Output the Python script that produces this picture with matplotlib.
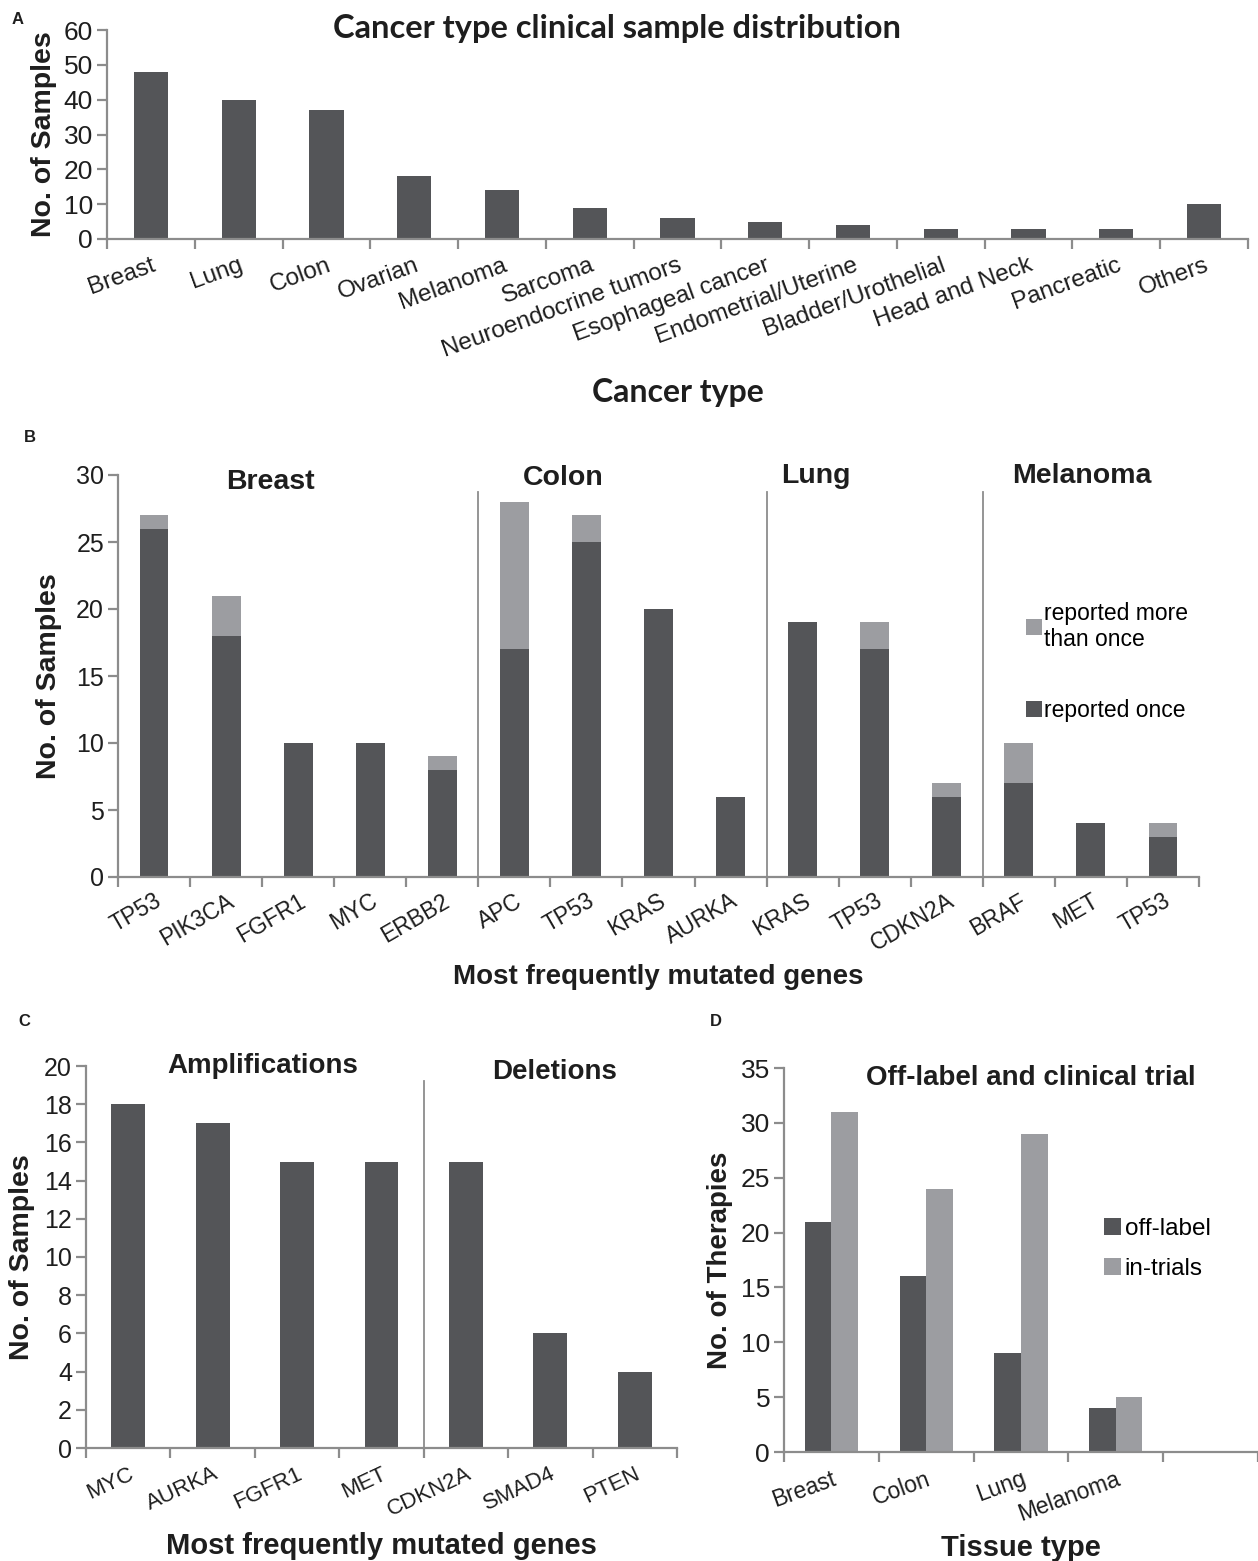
import matplotlib
matplotlib.use('Agg')
import matplotlib.pyplot as plt
import numpy as np

# ---- panel A data
cancer_types = ['Breast', 'Lung', 'Colon', 'Ovarian', 'Melanoma', 'Sarcoma',
                'Neuroendocrine tumors', 'Esophageal cancer', 'Endometrial/Uterine',
                'Bladder/Urothelial', 'Head and Neck', 'Pancreatic', 'Others']
cancer_counts = [48, 40, 37, 18, 14, 9, 6, 5, 4, 3, 3, 3, 10]

# ---- panel B data
b_groups = ['Breast', 'Colon', 'Lung', 'Melanoma']
b_group_sizes = [5, 4, 3, 3]
b_genes = ['TP53', 'PIK3CA', 'FGFR1', 'MYC', 'ERBB2',
           'APC', 'TP53', 'KRAS', 'AURKA',
           'KRAS', 'TP53', 'CDKN2A',
           'BRAF', 'MET', 'TP53']
b_once = [26, 18, 10, 10, 8, 17, 25, 20, 6, 19, 17, 6, 7, 4, 3]
b_more = [1, 3, 0, 0, 1, 11, 2, 0, 0, 0, 2, 1, 3, 0, 1]

# ---- panel C data
c_groups = ['Amplifications', 'Deletions']
c_group_sizes = [4, 3]
c_genes = ['MYC', 'AURKA', 'FGFR1', 'MET', 'CDKN2A', 'SMAD4', 'PTEN']
c_counts = [18, 17, 15, 15, 15, 6, 4]

# ---- panel D data
tissues = ['Breast', 'Colon', 'Lung', 'Melanoma', '']
off_label = [21, 16, 9, 4]
in_trials = [31, 24, 29, 5]

DARK = '#545558'
LIGHT = '#9c9da1'
AXIS = '#8c8c8c'
TXT = '#1e1e1e'

plt.rcParams['font.family'] = ['Liberation Sans', 'DejaVu Sans']

W, H = 1258, 1561
fig = plt.figure(figsize=(W / 100, H / 100), dpi=100)


def box(left, right, top, bottom):
    return [left / W, 1 - bottom / H, (right - left) / W, (bottom - top) / H]


def style(ax, n, ymax, ystep, labels, rot, lsize, ysize, lpad):
    for s in ['top', 'right']:
        ax.spines[s].set_visible(False)
    for s in ['left', 'bottom']:
        ax.spines[s].set_color(AXIS)
        ax.spines[s].set_linewidth(1.6)
    ax.set_xlim(-0.5, n - 0.5)
    ax.set_ylim(0, ymax)
    yt = np.arange(0, ymax + 0.1, ystep)
    ax.set_yticks(yt)
    ax.set_yticklabels([str(int(v)) for v in yt])
    ax.tick_params(axis='y', length=7, width=1.6, color=AXIS, labelsize=ysize,
                   labelcolor=TXT, pad=3)
    # boundary ticks between categories, labels at the centres
    ax.set_xticks(np.arange(n + 1) - 0.5)
    ax.set_xticklabels([])
    ax.tick_params(axis='x', which='major', length=7, width=1.6, color=AXIS)
    ax.set_xticks(np.arange(len(labels)), minor=True)
    ax.set_xticklabels(labels, minor=True, rotation=rot, ha='right', va='top',
                       rotation_mode='anchor', fontsize=lsize, color=TXT)
    ax.tick_params(axis='x', which='minor', length=0, pad=lpad)


def ylab(ax, text, xpix, left, right, size=20.5):
    ax.set_ylabel(text, fontsize=size, fontweight='bold', color=TXT, va='center')
    ax.yaxis.set_label_coords((xpix - left) / (right - left), 0.5)


def dividers(ax, sizes, ytop, ybot):
    for edge in np.cumsum(sizes)[:-1]:
        ax.plot([edge - 0.5, edge - 0.5], [ybot, ytop], color=AXIS, lw=1.3,
                clip_on=False)


# ---------------- A
axA = fig.add_axes(box(107, 1248, 30, 239))
xa = np.arange(len(cancer_types))
axA.bar(xa, cancer_counts, width=0.39, color=DARK)
style(axA, len(cancer_types), 60, 10, cancer_types, 20, 17.5, 19, 11)
axA.set_title('Cancer type clinical sample distribution', fontsize=23.5,
              fontweight='bold', family=['Lato', 'DejaVu Sans'], color=TXT,
              x=(617 - 107) / (1248 - 107), y=1.0, pad=-6)
ylab(axA, 'No. of Samples', 44, 107, 1248, 20.5)
axA.set_xlabel('Cancer type', fontsize=23, fontweight='bold',
               family=['Lato', 'DejaVu Sans'], color=TXT, labelpad=12)

# ---------------- B
axB = fig.add_axes(box(118, 1199, 475, 877))
xb = np.arange(len(b_genes))
axB.bar(xb, b_once, width=0.4, color=DARK, label='reported once')
axB.bar(xb, b_more, width=0.4, bottom=b_once, color=LIGHT,
        label='reported more\nthan once')
style(axB, len(b_genes), 30, 5, b_genes, 30, 16.5, 18, 9)
dividers(axB, b_group_sizes, 28.7, -0.5)
for name, gx, gy in zip(b_groups, [1.62, 5.68, 9.18, 12.88], [29.5, 29.75, 29.9, 29.9]):
    axB.text(gx, gy, name, ha='center', va='center', fontsize=20.5,
             fontweight='bold', color=TXT)
ylab(axB, 'No. of Samples', 49, 118, 1199)
axB.set_xlabel('Most frequently mutated genes', fontsize=20, fontweight='bold',
               color=TXT, labelpad=6)
hB, lB = axB.get_legend_handles_labels()
axB.legend(hB[::-1], lB[::-1], loc='upper left',
           bbox_to_anchor=(1005 / W, 1 - 581 / H), bbox_transform=fig.transFigure,
           frameon=False, handlelength=0.7, handleheight=0.7,
           handletextpad=0.1, labelspacing=2.1, prop={'size': 16.5})

# ---------------- C
axC = fig.add_axes(box(86, 677, 1066, 1448))
xc = np.arange(len(c_genes))
axC.bar(xc, c_counts, width=0.4, color=DARK)
style(axC, len(c_genes), 20, 2, c_genes, 25, 16, 18, 11)
dividers(axC, c_group_sizes, 19.2, 0)
for name, gx, gy in zip(c_groups, [1.59, 5.05], [20.0, 19.7]):
    axC.text(gx, gy, name, ha='center', va='center', fontsize=20,
             fontweight='bold', color=TXT)
ylab(axC, 'No. of Samples', 22, 86, 677)
axC.set_xlabel('Most frequently mutated genes', fontsize=21, fontweight='bold',
               color=TXT, labelpad=8)

# ---------------- D
axD = fig.add_axes(box(784, 1258, 1068, 1452))
xd = np.arange(len(off_label))
axD.bar(xd - 0.14, off_label, width=0.28, color=DARK, label='off-label')
axD.bar(xd + 0.14, in_trials, width=0.28, color=LIGHT, label='in-trials')
style(axD, len(tissues), 35, 5, tissues, 20, 16.5, 19, 11)
axD.text(2.1, 34.1, 'Off-label and clinical trial', ha='center', va='center',
         fontsize=20, fontweight='bold', color=TXT)
ylab(axD, 'No. of Therapies', 720, 784, 1258, 20)
axD.set_xlabel('Tissue type', fontsize=21, fontweight='bold', color=TXT,
               labelpad=6)
axD.legend(loc='upper left', bbox_to_anchor=(1082 / W, 1 - 1196 / H),
           bbox_transform=fig.transFigure, frameon=False, handlelength=0.7,
           handleheight=0.7, handletextpad=0.15, labelspacing=0.75,
           prop={'size': 17.5})

# panel letters
for letter, px, py in [('A', 18, 20), ('B', 30, 438), ('C', 24, 1022), ('D', 716, 1022)]:
    fig.text(px / W, 1 - py / H, letter, fontsize=12, fontweight='bold',
             ha='center', va='center', color=TXT)

fig.savefig('out.png', dpi=100)
